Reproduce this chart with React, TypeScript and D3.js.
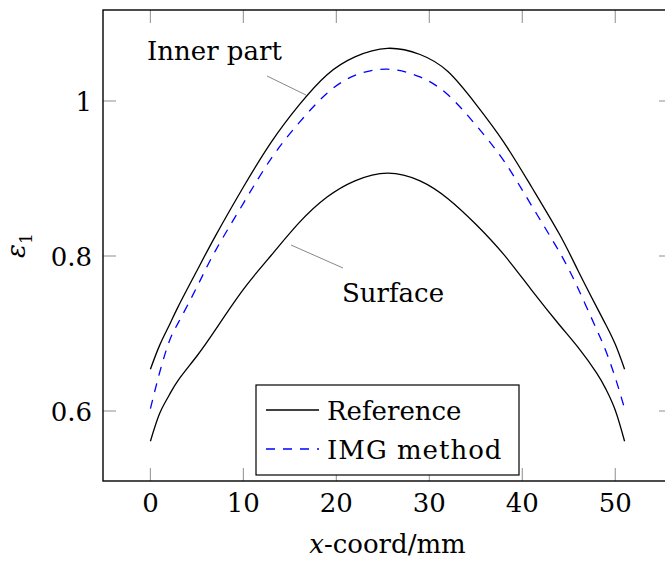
import React from "react";
import * as d3 from "d3";

const xs = [0, 1, 2, 3, 5, 7, 10, 13, 16, 19, 22, 25.5, 29, 32, 35, 38, 41, 44, 46, 48, 49, 50, 51];
const innerRef = [0.654, 0.685, 0.71, 0.735, 0.781, 0.826, 0.889, 0.947, 0.995, 1.034, 1.057, 1.068, 1.06, 1.038, 0.996, 0.947, 0.889, 0.828, 0.781, 0.734, 0.711, 0.686, 0.654];
const innerImg = [0.603, 0.65, 0.689, 0.714, 0.76, 0.807, 0.868, 0.926, 0.972, 1.01, 1.033, 1.041, 1.031, 1.008, 0.969, 0.923, 0.865, 0.805, 0.758, 0.705, 0.677, 0.643, 0.603];
const surfaceRef = [0.561, 0.597, 0.62, 0.64, 0.671, 0.705, 0.757, 0.801, 0.843, 0.876, 0.897, 0.907, 0.897, 0.874, 0.841, 0.802, 0.756, 0.711, 0.682, 0.649, 0.628, 0.601, 0.561];
const xTicks = [0, 10, 20, 30, 40, 50];
const yTicks = [0.6, 0.8, 1];
const legendLabels = ["Reference", "IMG method"];

const W = 665;
const H = 561;
const L = 103, R = 672, T = 10, B = 481;
const FONT = "'DejaVu Serif', serif";
const FS = 26;

export default function App() {
  const x = d3.scaleLinear().domain([-5.1, 56.1]).range([L, R]);
  const y = d3.scaleLinear().domain([0.5097, 1.1174]).range([B, T]);
  const line = (vals: number[]) =>
    d3.line<number>().x((_, i) => x(xs[i])).y((v) => y(v)).curve(d3.curveNatural)(vals) || "";
  const tickColor = "#a0a0a0";
  const tl = 13;
  return (
    <svg width={W} height={H} style={{ position: "absolute", left: 0, top: 0, background: "#fff", fontFamily: FONT }}>
      <rect x={0} y={0} width={W} height={H} fill="#fff" />
      {xTicks.map((t) => (
        <g key={"xt" + t}>
          <line x1={x(t)} x2={x(t)} y1={B} y2={B - tl} stroke={tickColor} strokeWidth={1.2} />
          <line x1={x(t)} x2={x(t)} y1={T} y2={T + tl} stroke={tickColor} strokeWidth={1.2} />
          <text x={x(t)} y={512} textAnchor="middle" fontSize={FS} fill="#000">{t}</text>
        </g>
      ))}
      {yTicks.map((t) => (
        <g key={"yt" + t}>
          <line x1={L} x2={L + tl} y1={y(t)} y2={y(t)} stroke={tickColor} strokeWidth={1.2} />
          <line x1={R} x2={R - tl} y1={y(t)} y2={y(t)} stroke={tickColor} strokeWidth={1.2} />
          <text x={92} y={y(t) + 10} textAnchor="end" fontSize={FS} fill="#000">{String(t)}</text>
        </g>
      ))}
      <path d={line(innerRef)} fill="none" stroke="#000" strokeWidth={1.3} />
      <path d={line(surfaceRef)} fill="none" stroke="#000" strokeWidth={1.3} />
      <path d={line(innerImg)} fill="none" stroke="#0000ff" strokeWidth={1.3} strokeDasharray="9,8" />
      <line x1={267} y1={76} x2={306} y2={95} stroke="#888" strokeWidth={1} />
      <text x={147} y={60} fontSize={FS} fill="#000">Inner part</text>
      <line x1={291} y1={245} x2={343} y2={268} stroke="#888" strokeWidth={1} />
      <text x={342} y={302} fontSize={FS} fill="#000">Surface</text>
      <rect x={256} y={385} width={263} height={90} fill="#fff" stroke="#000" strokeWidth={1.2} />
      <line x1={266} x2={319} y1={410} y2={410} stroke="#000" strokeWidth={1.3} />
      <line x1={266} x2={319} y1={449} y2={449} stroke="#0000ff" strokeWidth={1.3} strokeDasharray="9,8" />
      <text x={327} y={420} fontSize={FS} fill="#000">{legendLabels[0]}</text>
      <text x={327} y={459} fontSize={FS} fill="#000" letterSpacing={1}>{legendLabels[1]}</text>
      <rect x={L} y={T} width={R - L} height={B - T} fill="none" stroke="#000" strokeWidth={1.4} />
      <text x={(L + R) / 2} y={553} textAnchor="middle" fontSize={FS} fill="#000">
        <tspan fontStyle="italic">x</tspan>-coord/mm
      </text>
      <text transform={`translate(25, ${(T + B) / 2}) rotate(-90)`} textAnchor="middle" fontSize={FS} fill="#000">
        <tspan fontStyle="italic">ε</tspan>
        <tspan fontSize={17} dy={7}>1</tspan>
      </text>
    </svg>
  );
}
